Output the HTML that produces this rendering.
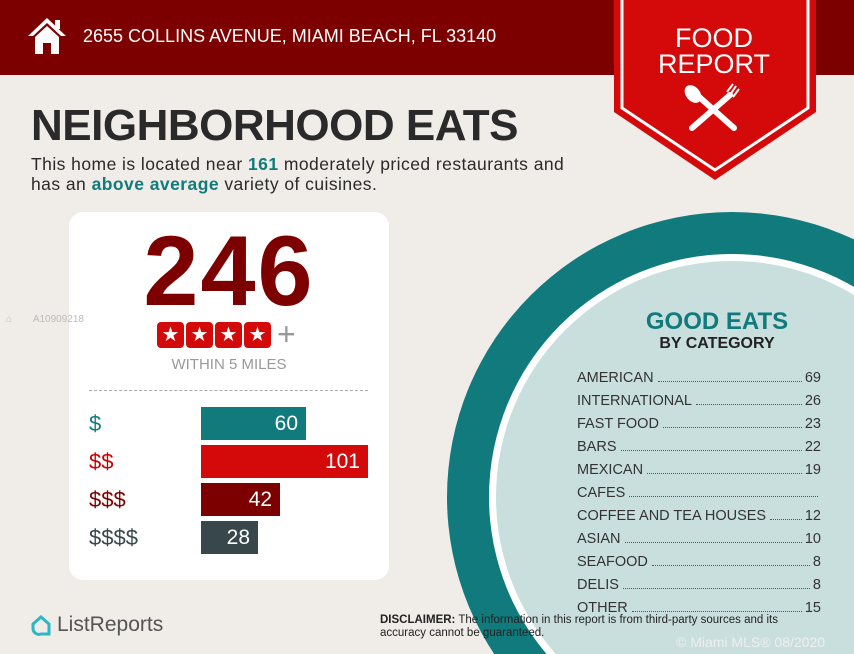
<!DOCTYPE html>
<html><head><meta charset="utf-8"><style>
*{margin:0;padding:0;box-sizing:border-box}
html{width:854px;height:654px;overflow:hidden}
body{width:854px;height:654px;overflow:hidden;background:#f0ece8;font-family:"Liberation Sans",sans-serif;position:relative}
.a{position:absolute}
.clip{position:absolute;left:0;top:0;width:854px;height:654px;overflow:hidden}
.hdr{left:0;top:0;width:854px;height:75px;background:#7d0000}
.addr{left:83px;top:26px;color:#fff;font-size:18px}
h1{position:absolute;left:31px;top:101px;font-size:44px;font-weight:bold;color:#2a2a2a;letter-spacing:-0.5px}
.sub{left:31px;top:154px;font-size:17.5px;color:#2a2a2a;line-height:20px;letter-spacing:0.45px}
.sub b{color:#117a7d}
.card{left:69px;top:212px;width:320px;height:368px;background:#fff;border-radius:14px}
.big{left:0;width:320px;top:9px;text-align:center;font-size:99px;line-height:99px;font-weight:bold;color:#7d0000;letter-spacing:2px}
.bar{position:absolute;left:132px;height:33px;color:#fff;font-size:21px;text-align:right;padding-right:8px;line-height:33px}
.lbl{position:absolute;left:20px;font-size:22px;line-height:33px}
.cat{position:absolute;left:577px;width:244px;font-size:14.5px;color:#333;display:flex;white-space:nowrap}
.cat span.d{flex:1;border-bottom:1.5px dotted #555;margin:0 3px 4px 4px}
</style></head><body>
<div class="clip">
<div class="a hdr"></div>
<svg class="a" style="left:26px;top:16px" width="42" height="40" viewBox="0 0 42 40"><path d="M21 2 L2 20 L7 20 L21 7 L35 20 L40 20 Z" fill="#fff"/><rect x="29" y="4" width="5" height="9" fill="#fff"/><path d="M9 21 L21 10 L33 21 L33 38 L25 38 L25 27 L17 27 L17 38 L9 38 Z" fill="#fff"/></svg>
<div class="a addr">2655 COLLINS AVENUE, MIAMI BEACH, FL 33140</div>
<svg class="a" style="left:612px;top:0" width="206" height="182"><path d="M2 0 H204 V112 L103 180 L2 112 Z" fill="#d40a0a"/><path d="M10 0 V108 L103 170 L196 108 V0" fill="none" stroke="#fff" stroke-width="3"/>
<g stroke="#fff" stroke-width="6" stroke-linecap="round"><line x1="80" y1="128" x2="118" y2="95"/><line x1="85" y1="95" x2="122" y2="128"/></g>
<ellipse cx="81" cy="94" rx="7" ry="10" fill="#fff" transform="rotate(-40 81 94)"/>
<g stroke="#fff" stroke-width="2"><line x1="118" y1="95" x2="124" y2="86"/><line x1="115" y1="92" x2="121" y2="84"/><line x1="121" y1="97" x2="127" y2="89"/></g></svg>
<div class="a" style="left:614px;top:25px;width:200px;text-align:center;color:#fff;font-size:27px;line-height:26px">FOOD<br>REPORT</div>
<h1>NEIGHBORHOOD EATS</h1>
<div class="a sub">This home is located near <b>161</b> moderately priced restaurants and<br>has an <b>above average</b> variety of cuisines.</div>
<div class="a card">
<div class="a big">246</div>
<div class="a" style="left:88px;top:110px;display:flex;gap:2px">
<div style="width:27px;height:26px;background:#d40a0a;border-radius:4px;color:#fff;font-size:20px;text-align:center;line-height:26px">★</div><div style="width:27px;height:26px;background:#d40a0a;border-radius:4px;color:#fff;font-size:20px;text-align:center;line-height:26px">★</div><div style="width:27px;height:26px;background:#d40a0a;border-radius:4px;color:#fff;font-size:20px;text-align:center;line-height:26px">★</div><div style="width:27px;height:26px;background:#d40a0a;border-radius:4px;color:#fff;font-size:20px;text-align:center;line-height:26px">★</div>
<div style="color:#999;font-size:32px;line-height:24px;margin-left:4px">+</div></div>
<div class="a" style="left:0;width:320px;top:144px;text-align:center;color:#999;font-size:15px">WITHIN 5 MILES</div>
<div class="a" style="left:20px;top:178px;width:279px;border-top:1.5px dashed #aaa"></div>
<div class="lbl" style="top:195px;color:#117a7d">$</div>
<div class="lbl" style="top:233px;color:#c00">$$</div>
<div class="lbl" style="top:271px;color:#7d0000">$$$</div>
<div class="lbl" style="top:309px;color:#37474a">$$$$</div>
<div class="bar" style="top:195px;width:105px;background:#117a7d">60</div>
<div class="bar" style="top:233px;width:167px;background:#d40a0a">101</div>
<div class="bar" style="top:271px;width:79px;background:#7d0000">42</div>
<div class="bar" style="top:309px;width:57px;background:#37474a">28</div>
</div>
<div class="a" style="left:6px;top:314px;color:#bbb;font-size:10px">⌂ <span style="margin-left:18px">A10909218</span></div>
<svg class="a" style="left:30px;top:614px" width="22" height="24"><path d="M3 10 L11 3 L19 10 V20 H11 A6 6 0 0 1 3 14 Z" fill="none" stroke="#2bb7c4" stroke-width="3"/></svg>
<div class="a" style="left:57px;top:613px;color:#555;font-size:21px">ListReports</div>
<svg class="a" style="left:447px;top:212px" width="407" height="442"><circle cx="285" cy="285" r="285" fill="#117a7d"/><circle cx="285" cy="285" r="243" fill="#fff"/><circle cx="285" cy="285" r="236" fill="#c9dfdd"/></svg>
<div class="a" style="left:600px;top:308px;width:234px;text-align:center;color:#117a7d;font-size:24px;font-weight:bold">GOOD EATS</div>
<div class="a" style="left:600px;top:335px;width:234px;text-align:center;color:#222;font-size:16px;font-weight:bold">BY CATEGORY</div>
<div class="cat" style="top:370px">AMERICAN<span class="d"></span>69</div>
<div class="cat" style="top:393px">INTERNATIONAL<span class="d"></span>26</div>
<div class="cat" style="top:416px">FAST FOOD<span class="d"></span>23</div>
<div class="cat" style="top:439px">BARS<span class="d"></span>22</div>
<div class="cat" style="top:462px">MEXICAN<span class="d"></span>19</div>
<div class="cat" style="top:485px">CAFES<span class="d"></span></div>
<div class="cat" style="top:508px">COFFEE AND TEA HOUSES<span class="d"></span>12</div>
<div class="cat" style="top:531px">ASIAN<span class="d"></span>10</div>
<div class="cat" style="top:554px">SEAFOOD<span class="d"></span>8</div>
<div class="cat" style="top:577px">DELIS<span class="d"></span>8</div>
<div class="cat" style="top:600px">OTHER<span class="d"></span>15</div>
<div class="a" style="left:380px;top:614px;font-size:11.5px;color:#222;line-height:13px"><b>DISCLAIMER:</b> The information in this report is from third-party sources and its<br>accuracy cannot be guaranteed.</div>
<div class="a" style="left:676px;top:634px;font-size:14px;color:#eee">© Miami MLS® 08/2020</div>
</div>
</body></html>
